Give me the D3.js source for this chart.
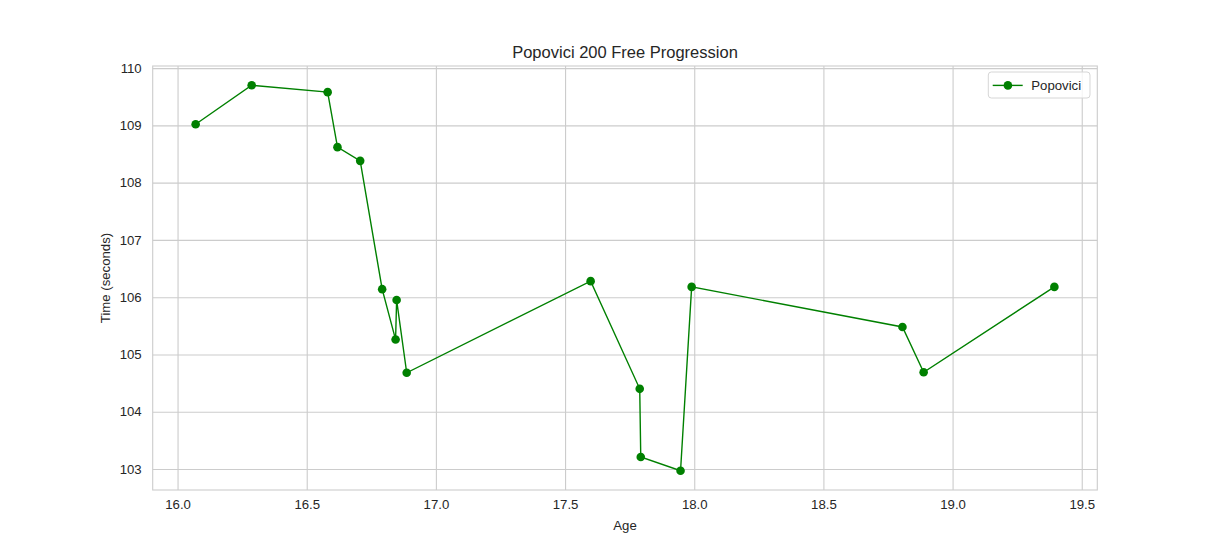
<!DOCTYPE html>
<html>
<head>
<meta charset="utf-8">
<script src="https://cdn.jsdelivr.net/npm/d3@7"></script>
<style>
  body { margin: 0; background: #fff; }
  text { font-family: "Liberation Sans", Arial, sans-serif; fill: #262626; }
</style>
</head>
<body>
<svg id="chart"></svg>
<script>
// ages (years) and 200 free times (seconds)
var ages  = [16.070, 16.287, 16.581, 16.619, 16.707, 16.792, 16.844, 16.848, 16.887,
             17.599, 17.789, 17.793, 17.947, 17.990, 18.806, 18.888, 19.394]
var times = [109.02, 109.70, 109.58, 108.62, 108.38, 106.14, 105.26, 105.95, 104.68,
             106.28, 104.40, 103.21, 102.97, 106.18, 105.48, 104.69, 106.18]
var xTicks = [16.0, 16.5, 17.0, 17.5, 18.0, 18.5, 19.0, 19.5]
var yTicks = [103, 104, 105, 106, 107, 108, 109, 110]
var seriesName = "Popovici"

var W = 1219, H = 551
var margin = {top: 66, right: 121.7, bottom: 61, left: 152.7}
var width = W - margin.left - margin.right
var height = H - margin.top - margin.bottom

var dataset = ages.map(function(a, i){ return {age: a, time: times[i]} })

// matplotlib-style 5% padding on each side
var xe = d3.extent(ages), ye = d3.extent(times)
var xp = (xe[1] - xe[0]) * 0.05, yp = (ye[1] - ye[0]) * 0.05

var x = d3.scaleLinear()
    .domain([xe[0] - xp, xe[1] + xp])
    .range([0, width])

var y = d3.scaleLinear()
    .domain([ye[0] - yp, ye[1] + yp])
    .range([height, 0])

var svg = d3.select("#chart")
    .attr("width", W)
    .attr("height", H)
  .append("g")
    .attr("transform", "translate(" + margin.left + "," + margin.top + ")")

// grid + ticks
var xAxis = svg.append("g")
    .attr("transform", "translate(0," + height + ")")
    .call(d3.axisBottom(x).tickValues(xTicks).tickFormat(d3.format(".1f"))
          .tickSize(-height).tickPadding(10))
var yAxis = svg.append("g")
    .call(d3.axisLeft(y).tickValues(yTicks).tickFormat(d3.format("d"))
          .tickSize(-width).tickPadding(11))

;[xAxis, yAxis].forEach(function(ax){
    ax.select(".domain").remove()
    ax.selectAll(".tick line").attr("stroke", "#cccccc").attr("stroke-width", 1.1)
    ax.selectAll(".tick text")
        .attr("font-family", "Liberation Sans, Arial, sans-serif")
        .attr("font-size", "13.2px")
        .attr("fill", "#262626")
})

// frame
svg.append("rect")
    .attr("x", 0).attr("y", 0)
    .attr("width", width).attr("height", height)
    .attr("fill", "none")
    .attr("stroke", "#cccccc")
    .attr("stroke-width", 1.1)

// line + markers
var line = d3.line()
    .x(function(d){ return x(d.age) })
    .y(function(d){ return y(d.time) })

svg.append("path")
    .datum(dataset)
    .attr("d", line)
    .attr("fill", "none")
    .attr("stroke", "green")
    .attr("stroke-width", 1.4)

svg.append("g")
    .selectAll("circle")
    .data(dataset)
    .enter()
    .append("circle")
    .attr("cx", function(d){ return x(d.age) })
    .attr("cy", function(d){ return y(d.time) })
    .attr("r", 4.3)
    .attr("fill", "green")

// title + axis labels
svg.append("text")
    .attr("x", width / 2)
    .attr("y", -8)
    .attr("text-anchor", "middle")
    .attr("font-size", "16.5px")
    .text("Popovici 200 Free Progression")

svg.append("text")
    .attr("x", width / 2)
    .attr("y", height + 40)
    .attr("text-anchor", "middle")
    .attr("font-size", "13.2px")
    .text("Age")

svg.append("text")
    .attr("transform", "translate(-43," + (height / 2) + ") rotate(-90)")
    .attr("text-anchor", "middle")
    .attr("font-size", "13.2px")
    .text("Time (seconds)")

// legend
var lg = svg.append("g")
    .attr("transform", "translate(" + (width - 109) + ",6)")
lg.append("rect")
    .attr("width", 101.7).attr("height", 26)
    .attr("rx", 3)
    .attr("fill", "white").attr("fill-opacity", 0.8)
    .attr("stroke", "#d6d6d6")
lg.append("line")
    .attr("x1", 4.4).attr("x2", 34.4)
    .attr("y1", 13.4).attr("y2", 13.4)
    .attr("stroke", "green").attr("stroke-width", 1.4)
lg.append("circle")
    .attr("cx", 19.6).attr("cy", 13.4).attr("r", 4.3)
    .attr("fill", "green")
lg.append("text")
    .attr("x", 43)
    .attr("y", 18)
    .attr("font-size", "13.2px")
    .text(seriesName)
</script>
</body>
</html>
